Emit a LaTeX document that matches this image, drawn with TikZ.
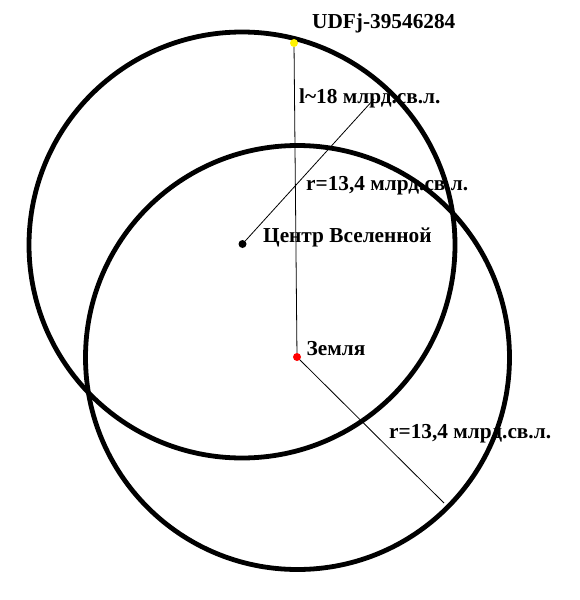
\documentclass[tikz,border=0pt]{standalone}
\usepackage{fontspec}
\setmainfont{Liberation Serif}
\usepackage{xcolor}
\usepackage{tikz}
\tikzstyle{sphere}=[draw=black,line width=4.8pt]
\tikzstyle{ray}=[draw=black,line width=0.8pt]
\tikzstyle{dot}=[circle,inner sep=0pt,minimum size=8pt]
\tikzstyle{label}=[anchor=base west,inner sep=0pt,font=\bfseries\fontsize{21.3}{25}\selectfont]

\begin{document}
\begin{tikzpicture}[x=1pt,y=-1pt]
		\useasboundingbox (0,0) rectangle (579,600);
		\draw[sphere] (242,245) circle (213pt);
		\draw[sphere] (297.5,357.5) circle (212pt);
		\node[dot,fill=yellow] (galaxy) at (294,43) {};
		\node[dot,fill=black] (centre) at (242.5,244) {};
		\node[dot,fill=red] (earth) at (297,357) {};
		\coordinate (rayend) at (374,99);
		\coordinate (earthend) at (444,503);
		\draw[ray] (galaxy) -- (earth);
		\draw[ray] (centre) -- (rayend);
		\draw[ray] (earth) -- (earthend);
		\node[label] (galaxyname) at (312,28) {UDFj-39546284};
		\node[label] (dist) at (299,103) {l\textasciitilde18 млрд.св.л.};
		\node[label] (radius) at (306,190) {r=13,4 млрд.св.л.};
		\node[label] (centrename) at (263,242) {Центр Вселенной};
		\node[label] (earthname) at (306.5,355) {Земля};
		\node[label] (radiustwo) at (389,438) {r=13,4 млрд.св.л.};
		\end{tikzpicture}
\end{document}
